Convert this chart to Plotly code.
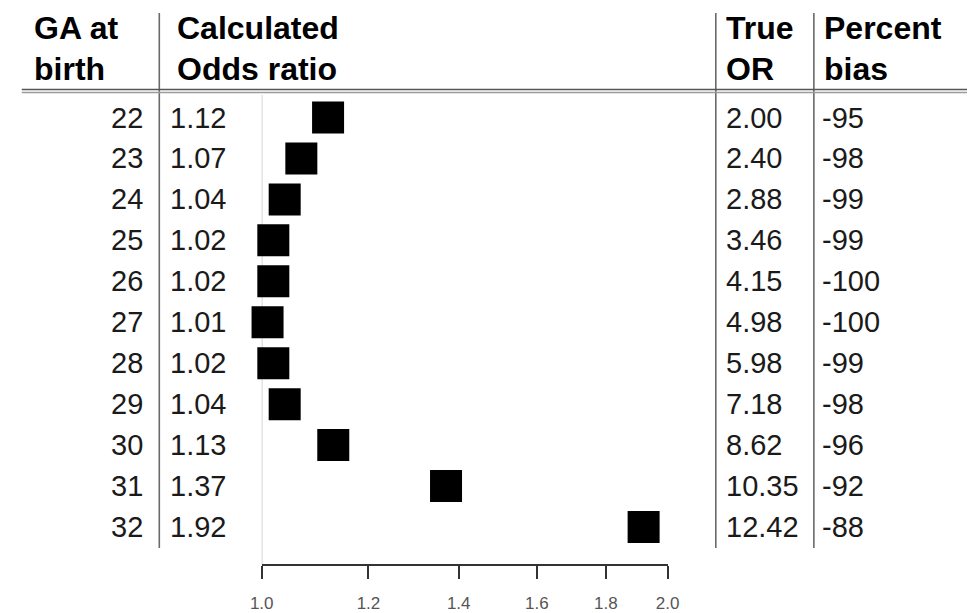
import math
import plotly.graph_objects as go

# ---- data ----
ga_birth = [22, 23, 24, 25, 26, 27, 28, 29, 30, 31, 32]
calc_or = [1.12, 1.07, 1.04, 1.02, 1.02, 1.01, 1.02, 1.04, 1.13, 1.37, 1.92]
true_or = ["2.00", "2.40", "2.88", "3.46", "4.15", "4.98", "5.98", "7.18", "8.62", "10.35", "12.42"]
pct_bias = [-95, -98, -99, -99, -100, -100, -99, -98, -96, -92, -88]
x_ticks = [1.0, 1.2, 1.4, 1.6, 1.8, 2.0]
x_tick_labels = ["1.0", "1.2", "1.4", "1.6", "1.8", "2.0"]
headers = [("GA at", "birth"), ("Calculated", "Odds ratio"), ("True", "OR"), ("Percent", "bias")]

W, H = 979, 613
FONT = "Liberation Sans, Arial, Helvetica, sans-serif"

def px(x):
    return x / W

def py(y):
    return 1 - y / H

rows = list(range(len(ga_birth)))
row0, row_step = 117.5, 40.95
r_top = -row0 / row_step
r_bot = r_top + H / row_step

fig = go.Figure()

# reference line at OR = 1
fig.add_trace(go.Scatter(
    x=[1.0, 1.0], y=[(95 - row0) / row_step, (565 - row0) / row_step],
    mode="lines", line=dict(color="#c8c8c8", width=1.5),
    hoverinfo="skip", showlegend=False, cliponaxis=False))

# squares
fig.add_trace(go.Scatter(
    x=calc_or, y=rows, mode="markers", cliponaxis=False,
    marker=dict(symbol="square", size=32, color="black", line=dict(width=0)),
    showlegend=False))

ann = []
body = dict(family=FONT, size=29, color="#1a1a1a")
for i in rows:
    ann.append(dict(x=px(136), y=i, xref="paper", yref="y", text=str(ga_birth[i]),
                    xanchor="right", yanchor="middle", showarrow=False, font=body))
    ann.append(dict(x=px(160), y=i, xref="paper", yref="y", text=f"{calc_or[i]:.2f}",
                    xanchor="left", yanchor="middle", showarrow=False, font=body))
    ann.append(dict(x=px(730), y=i, xref="paper", yref="y", text=true_or[i],
                    xanchor="left", yanchor="middle", showarrow=False, font=body))
    ann.append(dict(x=px(828), y=i, xref="paper", yref="y", text=str(pct_bias[i]),
                    xanchor="left", yanchor="middle", showarrow=False, font=body))

head_font = dict(family=FONT, size=32, color="black")
head_x = [21, 167, 730, 830]
for (l1, l2), hx in zip(headers, head_x):
    ann.append(dict(x=px(hx), y=py(28), xref="paper", yref="paper", text=f"<b>{l1}</b>",
                    xanchor="left", yanchor="middle", showarrow=False, font=head_font))
    ann.append(dict(x=px(hx), y=py(69), xref="paper", yref="paper", text=f"<b>{l2}</b>",
                    xanchor="left", yanchor="middle", showarrow=False, font=head_font))

shapes = []
for vx in [151, 721.5, 822]:
    shapes.append(dict(type="line", xref="paper", yref="paper",
                       x0=px(vx), x1=px(vx), y0=py(13), y1=py(548),
                       line=dict(color="#6a6a6a", width=1.6)))
shapes.append(dict(type="line", xref="paper", yref="paper",
                   x0=px(10), x1=1, y0=py(89.5), y1=py(89.5),
                   line=dict(color="#555555", width=1.6)))
shapes.append(dict(type="line", xref="paper", yref="paper",
                   x0=px(10), x1=1, y0=py(92.5), y1=py(92.5),
                   line=dict(color="#9a9a9a", width=1.4)))

fig.update_layout(
    width=W, height=H,
    margin=dict(l=0, r=0, t=0, b=0),
    paper_bgcolor="white", plot_bgcolor="white",
    annotations=ann, shapes=shapes,
    xaxis=dict(type="log", range=[0, math.log10(2.0)],
               domain=[px(256), px(672)],
               anchor="free", position=py(565),
               showgrid=False, zeroline=False,
               showline=True, linecolor="#333333", linewidth=1.6,
               ticks="outside", ticklen=13, tickwidth=1.6, tickcolor="#333333",
               ticklabelstandoff=10,
               tickvals=x_ticks, ticktext=x_tick_labels,
               tickfont=dict(family=FONT, size=17, color="#555555")),
    yaxis=dict(range=[r_bot, r_top], domain=[0, 1], visible=False,
               showgrid=False, zeroline=False),
)

fig.write_html(
    "out.html",
    config={"displayModeBar": False},
    post_script="document.body.style.margin='0';document.body.style.overflow='hidden';",
)
